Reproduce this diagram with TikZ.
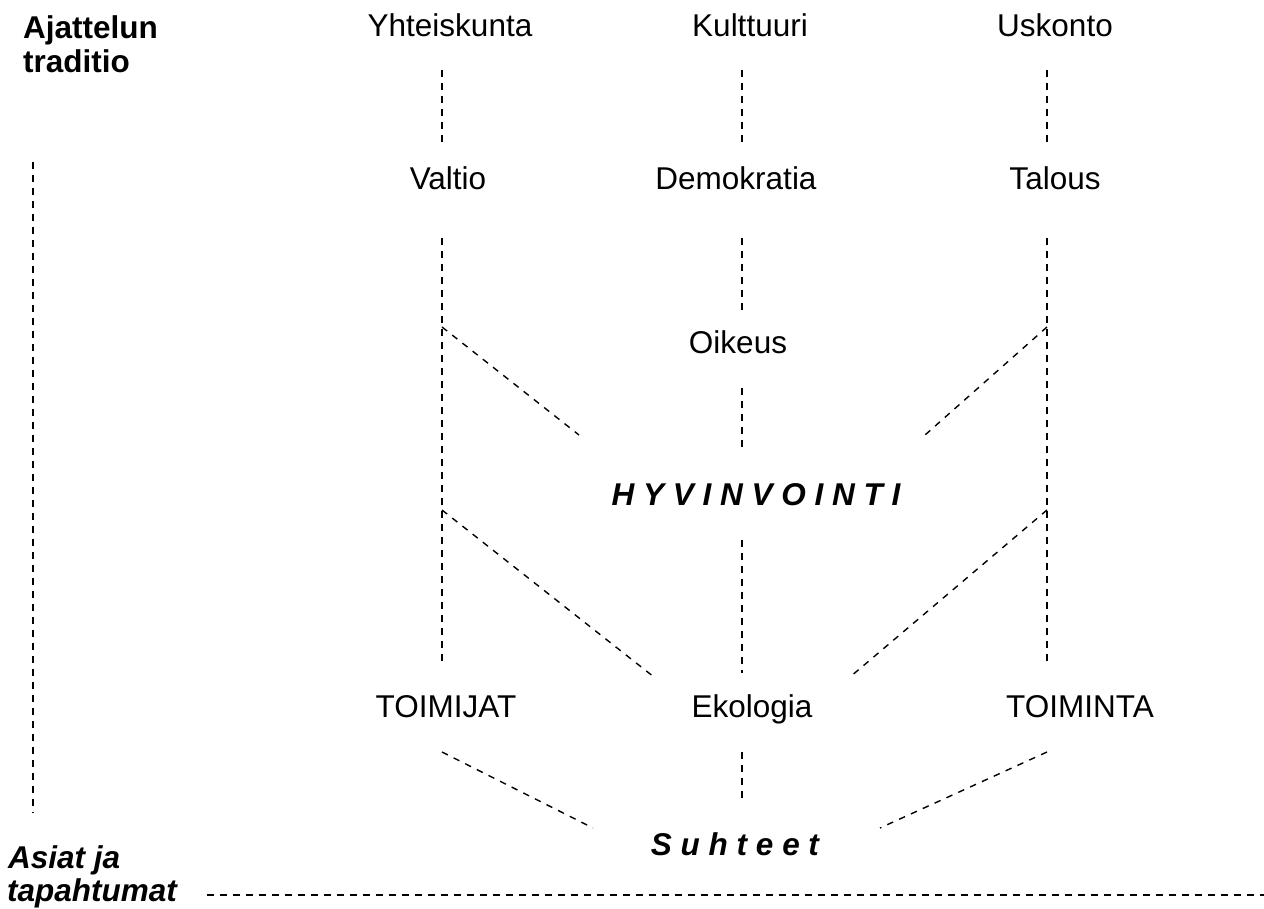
\documentclass[tikz,border=0pt]{standalone}
\usepackage{fontspec}
\setmainfont{Liberation Sans}
\begin{document}
\begin{tikzpicture}[x=1pt,y=-1pt,
  label/.style={anchor=base,inner sep=0pt,font=\fontsize{31.5}{34}\selectfont},
  side/.style={anchor=base west,inner sep=0pt,font=\fontsize{31.5}{34}\selectfont\bfseries},
  link/.style={draw=black,line width=1.4pt,dash pattern=on 6.5pt off 6.5pt}]
\useasboundingbox (0,0) rectangle (1264,908);

% side headings
\node[side] (ajat) at (23,38) {Ajattelun};
\node[side] (trad) at (23,72) {traditio};
\node[side,font=\fontsize{31.5}{34}\selectfont\bfseries\itshape] (asiat) at (8,868) {Asiat ja};
\node[side,font=\fontsize{31.5}{34}\selectfont\bfseries\itshape] (tapah) at (7,901) {tapahtumat};

% concepts
\node[label] (yht) at (450,36) {Yhteiskunta};
\node[label] (kult) at (750,36) {Kulttuuri};
\node[label] (usk) at (1055,36) {Uskonto};
\node[label] (valt) at (448,189) {Valtio};
\node[label] (demo) at (736,189) {Demokratia};
\node[label] (tal) at (1055,189) {Talous};
\node[label] (oik) at (738,353) {Oikeus};
\node[label,font=\fontsize{31.5}{34}\selectfont\bfseries\itshape] (hyv) at (756,505) {H Y V I N V O I N T I};
\node[label] (toimijat) at (446,717) {TOIMIJAT};
\node[label] (eko) at (752,717) {Ekologia};
\node[label] (toim) at (1080,717) {TOIMINTA};
\node[label,font=\fontsize{31.5}{34}\selectfont\bfseries\itshape] (suh) at (735,855) {S u h t e e t};

% connector ends
\coordinate (yhtB) at (442,70);   \coordinate (valtT) at (442,148);
\coordinate (kultB) at (742,70);  \coordinate (demoT) at (742,148);
\coordinate (uskB) at (1047,70);  \coordinate (talT) at (1047,148);
\coordinate (valtB) at (442,238); \coordinate (toimijatT) at (442,662);
\coordinate (talB) at (1047,238); \coordinate (toimT) at (1047,662);
\coordinate (demoB) at (742,238); \coordinate (oikT) at (742,313);
\coordinate (oikB) at (742,388);  \coordinate (hyvT) at (742,450);
\coordinate (hyvB) at (742,540);  \coordinate (ekoT) at (742,673);
\coordinate (ekoB) at (742,752);  \coordinate (suhT) at (742,798);
\coordinate (lA) at (442,327);    \coordinate (hyvL) at (579,435);
\coordinate (rA) at (1047,327);   \coordinate (hyvR) at (925,435);
\coordinate (lB) at (442,510);    \coordinate (ekoL) at (654,677);
\coordinate (rB) at (1047,510);   \coordinate (ekoR) at (850,677);
\coordinate (toimijatB) at (442,752); \coordinate (suhL) at (593,828);
\coordinate (toimB) at (1047,752);    \coordinate (suhR) at (880,828);
\coordinate (axT) at (33,162);    \coordinate (axB) at (33,813);
\coordinate (hzL) at (207,895);   \coordinate (hzR) at (1264,895);

% vertical links
\draw[link] (yhtB) -- (valtT);
\draw[link] (kultB) -- (demoT);
\draw[link] (uskB) -- (talT);
\draw[link] (valtB) -- (toimijatT);
\draw[link] (talB) -- (toimT);
\draw[link] (demoB) -- (oikT);
\draw[link] (oikB) -- (hyvT);
\draw[link] (hyvB) -- (ekoT);
\draw[link] (ekoB) -- (suhT);

% diagonal links
\draw[link] (lA) -- (hyvL);
\draw[link] (rA) -- (hyvR);
\draw[link] (lB) -- (ekoL);
\draw[link] (rB) -- (ekoR);
\draw[link] (toimijatB) -- (suhL);
\draw[link] (toimB) -- (suhR);

% axes
\draw[link] (axT) -- (axB);
\draw[link] (hzL) -- (hzR);
\end{tikzpicture}
\end{document}
